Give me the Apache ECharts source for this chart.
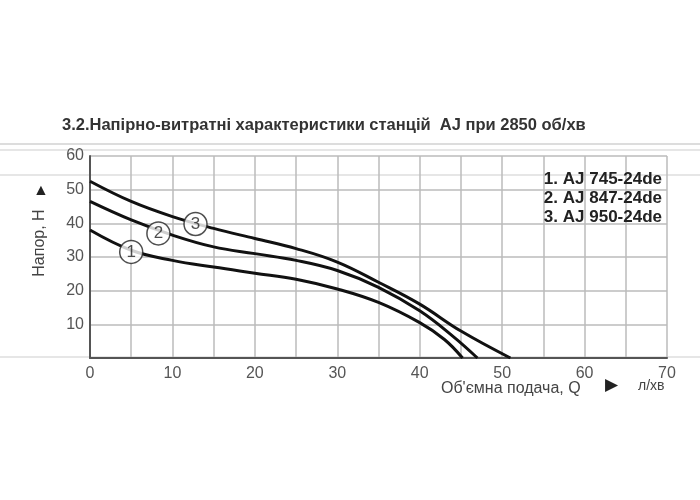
<!DOCTYPE html>
<html><head><meta charset="utf-8">
<script src="https://cdn.jsdelivr.net/npm/echarts@6/dist/echarts.min.js"></script>
<style>html,body{margin:0;background:#fff}#c{width:700px;height:500px}</style>
</head><body><div id="c"></div>
<script>
var chart = echarts.init(document.getElementById('c'))
var font = '"Liberation Sans", Arial, sans-serif'

// характеристики насосів: [Q, H]
var curve1 = [[0,38],[5,32],[10,29],[15,27],[20,25.2],[25,23.4],[30,20.5],[35,16.5],[40,10.5],[43,5.5],[45.2,0]]
var curve2 = [[0,46.5],[5,41],[10,36.5],[15,33],[20,31],[25,29],[30,26],[35,21],[40,14],[44,6.5],[47,0]]
var curve3 = [[0,52.5],[5,46.5],[10,42],[15,38.5],[20,35.5],[25,32.5],[30,28.5],[35,22.5],[40,16],[45,8],[51,0]]
var markers = [[5,31.5,'1'],[8.3,37,'2'],[12.8,39.8,'3']]
var models = ['1. AJ 745-24de', '2. AJ 847-24de', '3. AJ 950-24de']

function line(d) {
  return {type: 'line', data: d, smooth: 0.4, symbol: 'none', z: 3,
    lineStyle: {color: '#111', width: 3}}
}

option = {
  animation: false,
  grid: {left: 90, right: 33, top: 156, bottom: 142},
  xAxis: {type: 'value', min: 0, max: 70, interval: 5,
    axisLine: {lineStyle: {color: '#555', width: 2}}, axisTick: {show: false},
    axisLabel: {color: '#555', fontSize: 16, fontFamily: font, margin: 8,
      formatter: function (v) { return v % 10 === 0 ? v : '' }},
    splitLine: {lineStyle: {color: '#bbb', width: 1.5}}},
  yAxis: {type: 'value', min: 0, max: 60, interval: 10,
    axisLine: {show: true, lineStyle: {color: '#555', width: 2}}, axisTick: {show: false},
    axisLabel: {color: '#555', fontSize: 16, fontFamily: font, margin: 6,
      formatter: function (v) { return v === 0 ? '' : v }},
    splitLine: {lineStyle: {color: '#bbb', width: 1.5}}},
  series: [line(curve1), line(curve2), line(curve3),
    {type: 'scatter', z: 5, symbol: 'circle', symbolSize: 23,
      data: markers.map(function (m) { return {value: [m[0], m[1]], name: m[2]} }),
      itemStyle: {color: '#fff', borderColor: '#222', borderWidth: 1.5},
      label: {show: true, position: 'inside', formatter: '{b}', color: '#222', fontSize: 17, fontFamily: font}}
  ],
  graphic: [
    {type: 'line', shape: {x1: 0, y1: 144, x2: 700, y2: 144}, style: {stroke: '#ddd', lineWidth: 2}, z: -1},
    {type: 'line', shape: {x1: 0, y1: 150, x2: 700, y2: 150}, style: {stroke: '#e6e6e6', lineWidth: 2}, z: -1},
    {type: 'line', shape: {x1: 0, y1: 175, x2: 700, y2: 175}, style: {stroke: '#e6e6e6', lineWidth: 2}, z: -1},
    {type: 'line', shape: {x1: 0, y1: 357, x2: 700, y2: 357}, style: {stroke: '#e6e6e6', lineWidth: 2}, z: -1},
    {type: 'text', left: 62, top: 117, style: {text: '3.2.Напірно-витратні характеристики станцій  AJ при 2850 об/хв',
      fill: '#333', font: 'bold 16.5px ' + font}},
    {type: 'text', right: 38, top: 170, z: 10, style: {text: models.join('\n'), fill: '#222',
      font: 'bold 17px ' + font, lineHeight: 19, align: 'right'}},
    {type: 'text', x: 40, y: 243, rotation: Math.PI / 2, style: {text: 'Напор, H', fill: '#444',
      font: '16px ' + font, align: 'center', verticalAlign: 'middle'}},
    {type: 'text', x: 41, y: 191, style: {text: '▲', fill: '#222', font: '16px ' + font,
      align: 'center', verticalAlign: 'middle'}},
    {type: 'text', left: 441, top: 381, style: {text: "Об'ємна подача, Q", fill: '#444', font: '16px ' + font}},
    {type: 'text', left: 605, top: 377, style: {text: '▶', fill: '#222', font: '17px ' + font}},
    {type: 'text', left: 638, top: 379, style: {text: 'л/хв', fill: '#444', font: '14px ' + font}}
  ]
}
chart.setOption(option)
</script></body></html>
